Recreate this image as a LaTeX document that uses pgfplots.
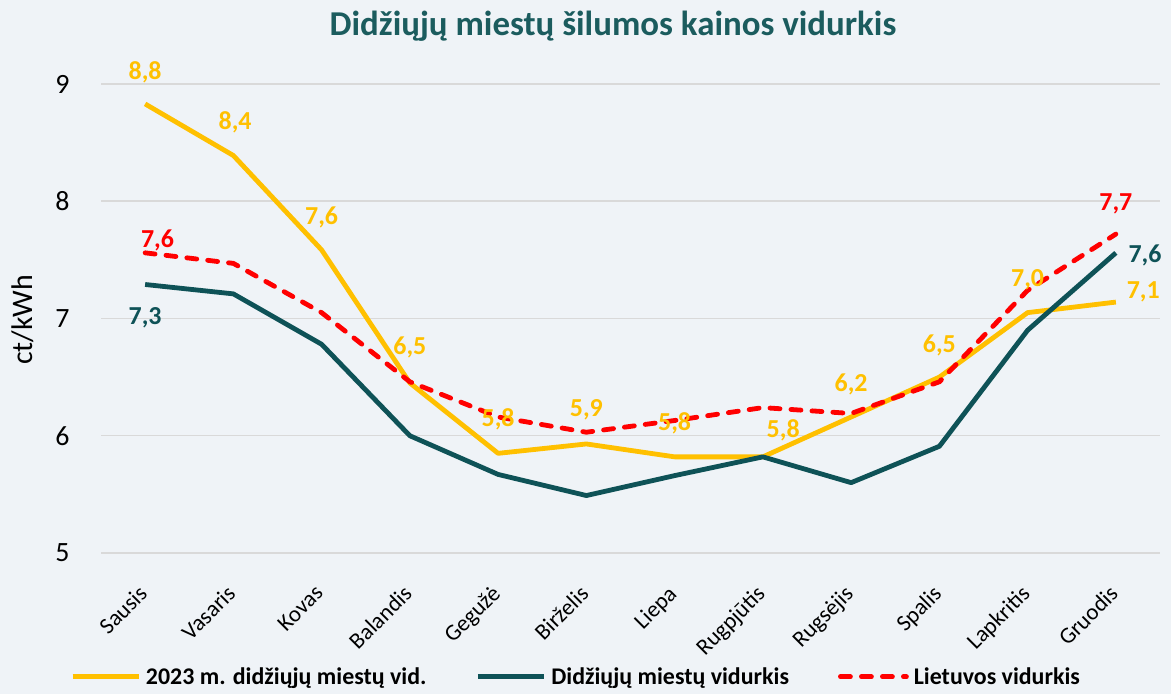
\documentclass[border=0pt]{standalone}
\usepackage{fontspec}
\setmainfont{Carlito}
\usepackage{pgfplots}
\pgfplotsset{compat=1.18}
\definecolor{bg}{HTML}{EFF3F7}
\definecolor{gold}{HTML}{FFC000}
\definecolor{tealL}{HTML}{0E5257}
\definecolor{gridc}{HTML}{D9D9D9}
\definecolor{ttl}{HTML}{1B5C5E}
\definecolor{redL}{HTML}{FF0000}
\begin{document}
\begin{tikzpicture}
\fill[bg] (0bp,0bp) rectangle (1171bp,694bp);
\path[use as bounding box] (0bp,0bp) rectangle (1171bp,694bp);
\node[font=\fontsize{35}{38}\selectfont\bfseries, text=ttl] at (613bp,668bp) {Didžiųjų miestų šilumos kainos vidurkis};
\begin{axis}[
  at={(101bp,141bp)}, anchor=south west,
  scale only axis, width=1059bp, height=469bp,
  xmin=-0.5, xmax=11.5, ymin=5, ymax=9,
  clip=false,
  axis line style={draw=none},
  tick style={draw=none},
  ymajorgrids,
  major grid style={gridc, line width=1.5bp},
  ytick={5,6,7,8,9},
  /pgf/number format/assume math mode=true,
  yticklabel style={font=\fontsize{28}{30}\selectfont, xshift=-28bp},
  xtick={0,...,11},
  xticklabels={Sausis,Vasaris,Kovas,Balandis,Gegužė,Birželis,Liepa,Rugpjūtis,Rugsėjis,Spalis,Lapkritis,Gruodis},
  xticklabel style={rotate=45, anchor=north east, font=\fontsize{23}{25}\selectfont, yshift=-13bp, xshift=-24bp},
  ylabel={ct/kWh},
  ylabel style={font=\fontsize{30}{32}\selectfont, at={(axis description cs:-0.074,0.497)}, anchor=center},
  legend columns=3,
  legend style={draw=none, fill=none, at={(axis description cs:0.45,-0.264)}, anchor=center,
    font=\fontsize{24}{26}\selectfont\bfseries,
    /tikz/every even column/.append style={column sep=44bp},
    nodes={inner xsep=5bp, inner ysep=2bp}},
  legend image code/.code={\draw[#1] (0bp,0bp) -- (66bp,0bp);},
]
\addplot[gold, line width=4.8bp, line join=round] coordinates {
(0,8.83) (1,8.39) (2,7.585) (3,6.45) (4,5.85) (5,5.93) (6,5.82) (7,5.82) (8,6.16) (9,6.50) (10,7.05) (11,7.14)};
\addlegendentry{2023 m. didžiųjų miestų vid.}
\addplot[tealL, line width=4.8bp, line join=round] coordinates {
(0,7.29) (1,7.21) (2,6.78) (3,6.0) (4,5.67) (5,5.49) (6,5.66) (7,5.82) (8,5.6) (9,5.91) (10,6.90) (11,7.56)};
\addlegendentry{Didžiųjų miestų vidurkis}
\addplot[redL, line width=4.8bp, line cap=round, dash pattern=on 10bp off 11bp] coordinates {
(0,7.56) (1,7.47) (2,7.05) (3,6.46) (4,6.16) (5,6.03) (6,6.13) (7,6.24) (8,6.19) (9,6.46) (10,7.24) (11,7.72)};
\addlegendentry{Lietuvos vidurkis}
\begin{scope}[every node/.style={font=\fontsize{26}{28}\selectfont\bfseries}]
\node[text=gold] at (axis cs:0,9.10) {8,8};
\node[text=gold] at (axis cs:1.02,8.67) {8,4};
\node[text=gold] at (axis cs:2,7.86) {7,6};
\node[text=gold] at (axis cs:3,6.75) {6,5};
\node[text=gold] at (axis cs:4,6.14) {5,8};
\node[text=gold] at (axis cs:5,6.22) {5,9};
\node[text=gold] at (axis cs:6,6.11) {5,8};
\node[text=gold] at (axis cs:7.23,6.05) {5,8};
\node[text=gold] at (axis cs:8,6.44) {6,2};
\node[text=gold] at (axis cs:9,6.77) {6,5};
\node[text=gold] at (axis cs:10,7.33) {7,0};
\node[text=gold] at (axis cs:11.31,7.23) {7,1};
\node[text=redL] at (axis cs:0.14,7.67) {7,6};
\node[text=redL] at (axis cs:11,7.98) {7,7};
\node[text=tealL] at (axis cs:0,7.01) {7,3};
\node[text=tealL] at (axis cs:11.33,7.54) {7,6};
\end{scope}
\end{axis}
\end{tikzpicture}
\end{document}
